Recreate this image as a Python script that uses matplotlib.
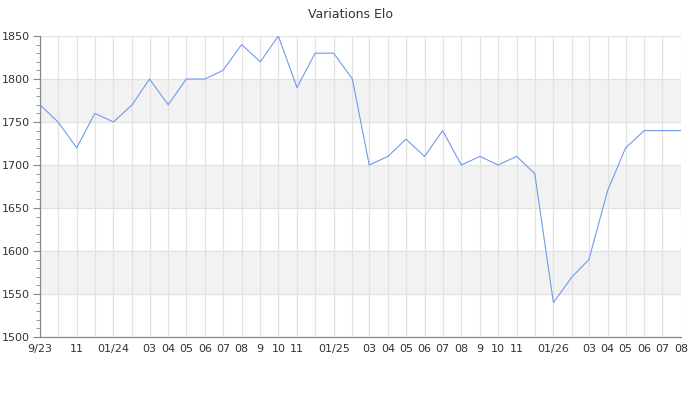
import numpy as np
import pandas as pd
import matplotlib
matplotlib.use('Agg')
import matplotlib.pyplot as plt
import matplotlib.ticker as ticker

# monthly Elo values, Sep 2023 -> Aug 2026
months = pd.date_range('2023-09-01', '2026-08-01', freq='MS')
elo = [1770, 1750, 1720, 1760, 1750, 1770, 1800, 1770, 1800, 1800, 1810, 1840,
       1820, 1850, 1790, 1830, 1830, 1800, 1700, 1710, 1730, 1710, 1740, 1700,
       1710, 1700, 1710, 1690, 1540, 1570, 1590, 1670, 1720, 1740, 1740, 1740]
month_labels = ['9/23', '', '11', '', '01/24', '', '03', '04', '05', '06', '07', '08',
                '9', '10', '11', '', '01/25', '', '03', '04', '05', '06', '07', '08',
                '9', '10', '11', '', '01/26', '', '03', '04', '05', '06', '07', '08']
y_min, y_max = 1500, 1850
shaded_bands = [(1750, 1800), (1650, 1700), (1550, 1600)]

txt = '#333333'
plt.rcParams['font.family'] = 'DejaVu Sans'
plt.rcParams['font.size'] = 8

fig = plt.figure(figsize=(7, 4), dpi=100)
ax = fig.add_axes([40/700, 63/400, 641/700, 301/400])

for lo, hi in shaded_bands:
    ax.axhspan(lo, hi, color='#f2f2f2', zorder=0, lw=0)

ax.plot(months, elo, color='#6f9bea', lw=0.8, zorder=3)

ax.set_xlim(months[0], months[-1])
ax.set_ylim(y_min, y_max)
ax.set_xticks(months)
ax.set_xticklabels(month_labels, color=txt)
ax.yaxis.set_major_locator(ticker.MultipleLocator(50))
ax.yaxis.set_minor_locator(ticker.MultipleLocator(10))

ax.grid(True, which='major', color='#e2e2e2', lw=0.9, zorder=1)
ax.set_axisbelow(True)
for s in ['top', 'right']:
    ax.spines[s].set_visible(False)
for s in ['left', 'bottom']:
    ax.spines[s].set_color('#888888')
    ax.spines[s].set_linewidth(0.9)
ax.tick_params(axis='x', length=0, pad=5, colors=txt)
ax.tick_params(axis='y', which='major', length=5, color='#888888', labelcolor=txt, pad=2)
ax.tick_params(axis='y', which='minor', length=3, color='#888888')

fig.suptitle('Variations Elo', y=0.98, fontsize=9, color=txt)

fig.savefig('out.png', dpi=100)
